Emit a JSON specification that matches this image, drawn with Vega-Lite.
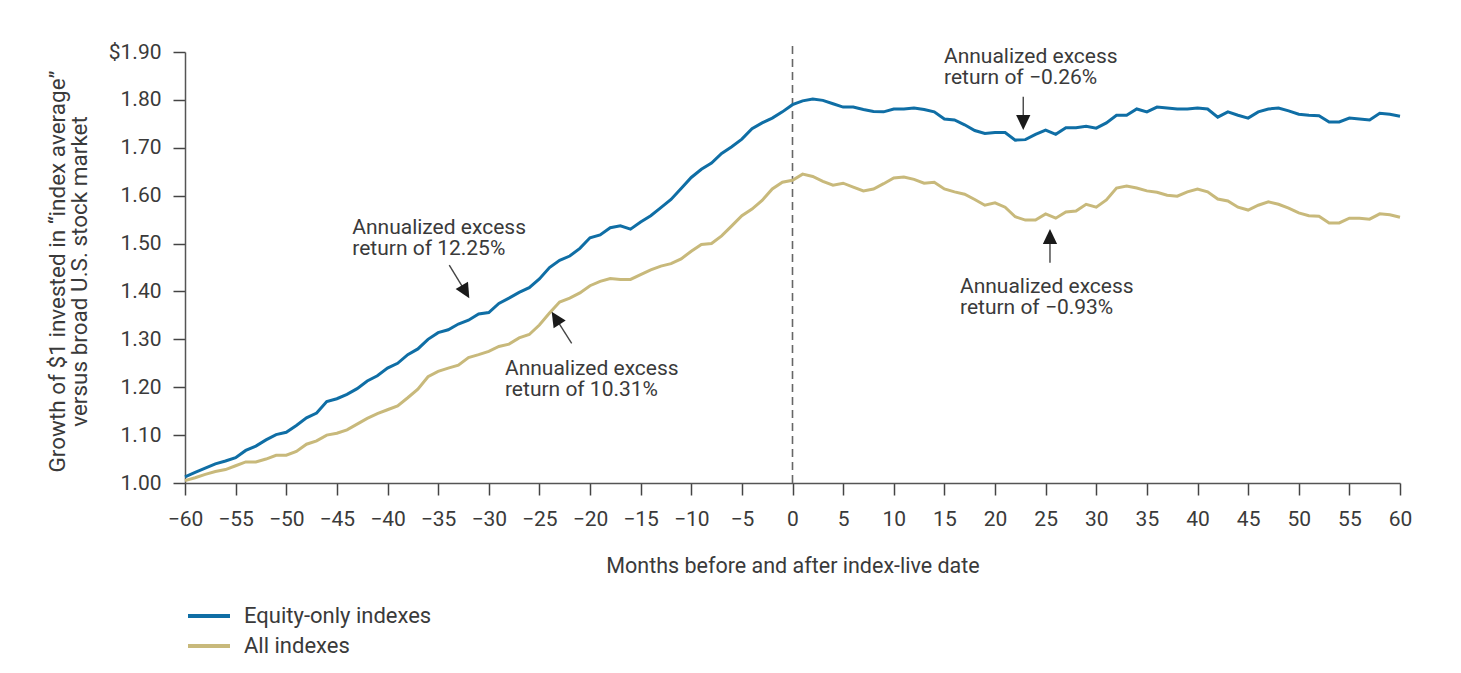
{
  "$schema": "https://vega.github.io/schema/vega-lite/v6.json",
  "width": 1215,
  "height": 431,
  "autosize": {"type": "none"},
  "padding": {"left": 185, "top": 52, "right": 61, "bottom": 190},
  "background": "white",
  "config": {
    "font": "Roboto",
    "view": {"stroke": null},
    "axis": {"grid": false, "labelFont": "Roboto", "titleFont": "Roboto", "labelColor": "#3a3a3a", "titleColor": "#3a3a3a", "titleFontWeight": "normal", "domainColor": "#555555", "tickColor": "#444444"}
  },
  "datasets": {
    "lines": [
      {"m":-60,"series":"Equity-only indexes","v":1.013},{"m":-59,"series":"Equity-only indexes","v":1.022},{"m":-58,"series":"Equity-only indexes","v":1.031},{"m":-57,"series":"Equity-only indexes","v":1.040},{"m":-56,"series":"Equity-only indexes","v":1.046},{"m":-55,"series":"Equity-only indexes","v":1.053},{"m":-54,"series":"Equity-only indexes","v":1.068},{"m":-53,"series":"Equity-only indexes","v":1.077},{"m":-52,"series":"Equity-only indexes","v":1.090},{"m":-51,"series":"Equity-only indexes","v":1.101},{"m":-50,"series":"Equity-only indexes","v":1.106},{"m":-49,"series":"Equity-only indexes","v":1.120},{"m":-48,"series":"Equity-only indexes","v":1.136},{"m":-47,"series":"Equity-only indexes","v":1.146},{"m":-46,"series":"Equity-only indexes","v":1.170},{"m":-45,"series":"Equity-only indexes","v":1.176},{"m":-44,"series":"Equity-only indexes","v":1.185},{"m":-43,"series":"Equity-only indexes","v":1.197},{"m":-42,"series":"Equity-only indexes","v":1.213},{"m":-41,"series":"Equity-only indexes","v":1.224},{"m":-40,"series":"Equity-only indexes","v":1.240},{"m":-39,"series":"Equity-only indexes","v":1.250},{"m":-38,"series":"Equity-only indexes","v":1.268},{"m":-37,"series":"Equity-only indexes","v":1.280},{"m":-36,"series":"Equity-only indexes","v":1.300},{"m":-35,"series":"Equity-only indexes","v":1.314},{"m":-34,"series":"Equity-only indexes","v":1.320},{"m":-33,"series":"Equity-only indexes","v":1.332},{"m":-32,"series":"Equity-only indexes","v":1.340},{"m":-31,"series":"Equity-only indexes","v":1.353},{"m":-30,"series":"Equity-only indexes","v":1.356},{"m":-29,"series":"Equity-only indexes","v":1.375},{"m":-28,"series":"Equity-only indexes","v":1.386},{"m":-27,"series":"Equity-only indexes","v":1.398},{"m":-26,"series":"Equity-only indexes","v":1.408},{"m":-25,"series":"Equity-only indexes","v":1.426},{"m":-24,"series":"Equity-only indexes","v":1.450},{"m":-23,"series":"Equity-only indexes","v":1.465},{"m":-22,"series":"Equity-only indexes","v":1.474},{"m":-21,"series":"Equity-only indexes","v":1.490},{"m":-20,"series":"Equity-only indexes","v":1.512},{"m":-19,"series":"Equity-only indexes","v":1.518},{"m":-18,"series":"Equity-only indexes","v":1.533},{"m":-17,"series":"Equity-only indexes","v":1.537},{"m":-16,"series":"Equity-only indexes","v":1.530},{"m":-15,"series":"Equity-only indexes","v":1.545},{"m":-14,"series":"Equity-only indexes","v":1.558},{"m":-13,"series":"Equity-only indexes","v":1.575},{"m":-12,"series":"Equity-only indexes","v":1.592},{"m":-11,"series":"Equity-only indexes","v":1.615},{"m":-10,"series":"Equity-only indexes","v":1.638},{"m":-9,"series":"Equity-only indexes","v":1.655},{"m":-8,"series":"Equity-only indexes","v":1.668},{"m":-7,"series":"Equity-only indexes","v":1.688},{"m":-6,"series":"Equity-only indexes","v":1.702},{"m":-5,"series":"Equity-only indexes","v":1.718},{"m":-4,"series":"Equity-only indexes","v":1.740},{"m":-3,"series":"Equity-only indexes","v":1.752},{"m":-2,"series":"Equity-only indexes","v":1.762},{"m":-1,"series":"Equity-only indexes","v":1.775},{"m":0,"series":"Equity-only indexes","v":1.790},{"m":1,"series":"Equity-only indexes","v":1.798},{"m":2,"series":"Equity-only indexes","v":1.802},{"m":3,"series":"Equity-only indexes","v":1.799},{"m":4,"series":"Equity-only indexes","v":1.792},{"m":5,"series":"Equity-only indexes","v":1.785},{"m":6,"series":"Equity-only indexes","v":1.785},{"m":7,"series":"Equity-only indexes","v":1.780},{"m":8,"series":"Equity-only indexes","v":1.776},{"m":9,"series":"Equity-only indexes","v":1.775},{"m":10,"series":"Equity-only indexes","v":1.781},{"m":11,"series":"Equity-only indexes","v":1.781},{"m":12,"series":"Equity-only indexes","v":1.783},{"m":13,"series":"Equity-only indexes","v":1.780},{"m":14,"series":"Equity-only indexes","v":1.775},{"m":15,"series":"Equity-only indexes","v":1.760},{"m":16,"series":"Equity-only indexes","v":1.758},{"m":17,"series":"Equity-only indexes","v":1.748},{"m":18,"series":"Equity-only indexes","v":1.736},{"m":19,"series":"Equity-only indexes","v":1.730},{"m":20,"series":"Equity-only indexes","v":1.732},{"m":21,"series":"Equity-only indexes","v":1.732},{"m":22,"series":"Equity-only indexes","v":1.716},{"m":23,"series":"Equity-only indexes","v":1.717},{"m":24,"series":"Equity-only indexes","v":1.728},{"m":25,"series":"Equity-only indexes","v":1.737},{"m":26,"series":"Equity-only indexes","v":1.728},{"m":27,"series":"Equity-only indexes","v":1.742},{"m":28,"series":"Equity-only indexes","v":1.742},{"m":29,"series":"Equity-only indexes","v":1.745},{"m":30,"series":"Equity-only indexes","v":1.741},{"m":31,"series":"Equity-only indexes","v":1.752},{"m":32,"series":"Equity-only indexes","v":1.768},{"m":33,"series":"Equity-only indexes","v":1.768},{"m":34,"series":"Equity-only indexes","v":1.781},{"m":35,"series":"Equity-only indexes","v":1.775},{"m":36,"series":"Equity-only indexes","v":1.785},{"m":37,"series":"Equity-only indexes","v":1.783},{"m":38,"series":"Equity-only indexes","v":1.781},{"m":39,"series":"Equity-only indexes","v":1.781},{"m":40,"series":"Equity-only indexes","v":1.783},{"m":41,"series":"Equity-only indexes","v":1.781},{"m":42,"series":"Equity-only indexes","v":1.764},{"m":43,"series":"Equity-only indexes","v":1.775},{"m":44,"series":"Equity-only indexes","v":1.768},{"m":45,"series":"Equity-only indexes","v":1.762},{"m":46,"series":"Equity-only indexes","v":1.775},{"m":47,"series":"Equity-only indexes","v":1.781},{"m":48,"series":"Equity-only indexes","v":1.783},{"m":49,"series":"Equity-only indexes","v":1.777},{"m":50,"series":"Equity-only indexes","v":1.770},{"m":51,"series":"Equity-only indexes","v":1.768},{"m":52,"series":"Equity-only indexes","v":1.767},{"m":53,"series":"Equity-only indexes","v":1.754},{"m":54,"series":"Equity-only indexes","v":1.754},{"m":55,"series":"Equity-only indexes","v":1.762},{"m":56,"series":"Equity-only indexes","v":1.760},{"m":57,"series":"Equity-only indexes","v":1.758},{"m":58,"series":"Equity-only indexes","v":1.772},{"m":59,"series":"Equity-only indexes","v":1.770},{"m":60,"series":"Equity-only indexes","v":1.766},
      {"m":-60,"series":"All indexes","v":1.005},{"m":-59,"series":"All indexes","v":1.011},{"m":-58,"series":"All indexes","v":1.018},{"m":-57,"series":"All indexes","v":1.024},{"m":-56,"series":"All indexes","v":1.028},{"m":-55,"series":"All indexes","v":1.036},{"m":-54,"series":"All indexes","v":1.044},{"m":-53,"series":"All indexes","v":1.044},{"m":-52,"series":"All indexes","v":1.050},{"m":-51,"series":"All indexes","v":1.058},{"m":-50,"series":"All indexes","v":1.058},{"m":-49,"series":"All indexes","v":1.066},{"m":-48,"series":"All indexes","v":1.081},{"m":-47,"series":"All indexes","v":1.088},{"m":-46,"series":"All indexes","v":1.100},{"m":-45,"series":"All indexes","v":1.104},{"m":-44,"series":"All indexes","v":1.111},{"m":-43,"series":"All indexes","v":1.123},{"m":-42,"series":"All indexes","v":1.135},{"m":-41,"series":"All indexes","v":1.145},{"m":-40,"series":"All indexes","v":1.153},{"m":-39,"series":"All indexes","v":1.161},{"m":-38,"series":"All indexes","v":1.178},{"m":-37,"series":"All indexes","v":1.196},{"m":-36,"series":"All indexes","v":1.222},{"m":-35,"series":"All indexes","v":1.233},{"m":-34,"series":"All indexes","v":1.240},{"m":-33,"series":"All indexes","v":1.246},{"m":-32,"series":"All indexes","v":1.262},{"m":-31,"series":"All indexes","v":1.268},{"m":-30,"series":"All indexes","v":1.275},{"m":-29,"series":"All indexes","v":1.285},{"m":-28,"series":"All indexes","v":1.290},{"m":-27,"series":"All indexes","v":1.303},{"m":-26,"series":"All indexes","v":1.310},{"m":-25,"series":"All indexes","v":1.330},{"m":-24,"series":"All indexes","v":1.355},{"m":-23,"series":"All indexes","v":1.378},{"m":-22,"series":"All indexes","v":1.386},{"m":-21,"series":"All indexes","v":1.397},{"m":-20,"series":"All indexes","v":1.412},{"m":-19,"series":"All indexes","v":1.421},{"m":-18,"series":"All indexes","v":1.427},{"m":-17,"series":"All indexes","v":1.425},{"m":-16,"series":"All indexes","v":1.425},{"m":-15,"series":"All indexes","v":1.435},{"m":-14,"series":"All indexes","v":1.445},{"m":-13,"series":"All indexes","v":1.453},{"m":-12,"series":"All indexes","v":1.458},{"m":-11,"series":"All indexes","v":1.468},{"m":-10,"series":"All indexes","v":1.484},{"m":-9,"series":"All indexes","v":1.498},{"m":-8,"series":"All indexes","v":1.500},{"m":-7,"series":"All indexes","v":1.516},{"m":-6,"series":"All indexes","v":1.537},{"m":-5,"series":"All indexes","v":1.558},{"m":-4,"series":"All indexes","v":1.572},{"m":-3,"series":"All indexes","v":1.590},{"m":-2,"series":"All indexes","v":1.614},{"m":-1,"series":"All indexes","v":1.628},{"m":0,"series":"All indexes","v":1.632},{"m":1,"series":"All indexes","v":1.645},{"m":2,"series":"All indexes","v":1.640},{"m":3,"series":"All indexes","v":1.630},{"m":4,"series":"All indexes","v":1.622},{"m":5,"series":"All indexes","v":1.626},{"m":6,"series":"All indexes","v":1.618},{"m":7,"series":"All indexes","v":1.610},{"m":8,"series":"All indexes","v":1.614},{"m":9,"series":"All indexes","v":1.625},{"m":10,"series":"All indexes","v":1.637},{"m":11,"series":"All indexes","v":1.639},{"m":12,"series":"All indexes","v":1.634},{"m":13,"series":"All indexes","v":1.626},{"m":14,"series":"All indexes","v":1.628},{"m":15,"series":"All indexes","v":1.614},{"m":16,"series":"All indexes","v":1.608},{"m":17,"series":"All indexes","v":1.603},{"m":18,"series":"All indexes","v":1.592},{"m":19,"series":"All indexes","v":1.580},{"m":20,"series":"All indexes","v":1.585},{"m":21,"series":"All indexes","v":1.576},{"m":22,"series":"All indexes","v":1.556},{"m":23,"series":"All indexes","v":1.549},{"m":24,"series":"All indexes","v":1.549},{"m":25,"series":"All indexes","v":1.562},{"m":26,"series":"All indexes","v":1.553},{"m":27,"series":"All indexes","v":1.566},{"m":28,"series":"All indexes","v":1.568},{"m":29,"series":"All indexes","v":1.582},{"m":30,"series":"All indexes","v":1.576},{"m":31,"series":"All indexes","v":1.591},{"m":32,"series":"All indexes","v":1.616},{"m":33,"series":"All indexes","v":1.620},{"m":34,"series":"All indexes","v":1.616},{"m":35,"series":"All indexes","v":1.610},{"m":36,"series":"All indexes","v":1.607},{"m":37,"series":"All indexes","v":1.601},{"m":38,"series":"All indexes","v":1.599},{"m":39,"series":"All indexes","v":1.608},{"m":40,"series":"All indexes","v":1.614},{"m":41,"series":"All indexes","v":1.608},{"m":42,"series":"All indexes","v":1.593},{"m":43,"series":"All indexes","v":1.589},{"m":44,"series":"All indexes","v":1.576},{"m":45,"series":"All indexes","v":1.570},{"m":46,"series":"All indexes","v":1.580},{"m":47,"series":"All indexes","v":1.587},{"m":48,"series":"All indexes","v":1.582},{"m":49,"series":"All indexes","v":1.574},{"m":50,"series":"All indexes","v":1.564},{"m":51,"series":"All indexes","v":1.558},{"m":52,"series":"All indexes","v":1.557},{"m":53,"series":"All indexes","v":1.543},{"m":54,"series":"All indexes","v":1.543},{"m":55,"series":"All indexes","v":1.553},{"m":56,"series":"All indexes","v":1.553},{"m":57,"series":"All indexes","v":1.551},{"m":58,"series":"All indexes","v":1.562},{"m":59,"series":"All indexes","v":1.560},{"m":60,"series":"All indexes","v":1.555}
    ],
    "notes": [
      {"m": -43.48, "v": 1.5198, "label": "Annualized excess\nreturn of 12.25%"},
      {"m": -28.4, "v": 1.2255, "label": "Annualized excess\nreturn of 10.31%"},
      {"m": 14.96, "v": 1.876, "label": "Annualized excess\nreturn of −0.26%"},
      {"m": 16.54, "v": 1.396, "label": "Annualized excess\nreturn of −0.93%"}
    ],
    "arrows": [
      {"id": "a1", "m": -33.9, "v": 1.4551, "m2": -32.29, "v2": 1.3992},
      {"id": "a2", "m": -21.81, "v": 1.2917, "m2": -23.39, "v2": 1.3445},
      {"id": "a3", "m": 22.79, "v": 1.8065, "m2": 22.79, "v2": 1.7526},
      {"id": "a4", "m": 25.43, "v": 1.46, "m2": 25.43, "v2": 1.5146}
    ],
    "live": [{"m": 0, "v": 1.0, "v2": 1.92}]
  },
  "layer": [
    {
      "data": {"name": "live"},
      "mark": {"type": "rule", "color": "#666666", "strokeWidth": 1.6, "strokeDash": [8, 5]},
      "encoding": {
        "x": {"field": "m", "type": "quantitative", "scale": {"domain": [-60, 60], "nice": false, "zero": false}},
        "y": {"field": "v", "type": "quantitative", "scale": {"domain": [1, 1.9], "nice": false, "zero": false}},
        "y2": {"field": "v2"}
      }
    },
    {
      "data": {"name": "lines"},
      "mark": {"type": "line", "strokeWidth": 3, "interpolate": "linear"},
      "encoding": {
        "x": {"field": "m", "type": "quantitative",
          "axis": {"values": [-60,-55,-50,-45,-40,-35,-30,-25,-20,-15,-10,-5,0,5,10,15,20,25,30,35,40,45,50,55,60],
            "title": "Months before and after index-live date", "titleFontSize": 21.5, "titlePadding": 26,
            "labelFontSize": 21, "labelPadding": 13, "tickSize": 12, "tickWidth": 1.5, "domainWidth": 1.5, "labelFlush": false}},
        "y": {"field": "v", "type": "quantitative",
          "axis": {"values": [1.0,1.1,1.2,1.3,1.4,1.5,1.6,1.7,1.8,1.9],
            "labelExpr": "datum.value >= 1.89 ? '$1.90' : format(datum.value, '.2f')",
            "title": ["Growth of $1 invested in “index average”", "versus broad U.S. stock market"],
            "titleFontSize": 22.5, "titleLineHeight": 22, "titleX": -128, "titleY": 219, "titleAngle": -90,
            "titleAlign": "center", "titleBaseline": "middle",
            "labelFontSize": 21, "labelPadding": 12, "tickSize": 12, "tickWidth": 1.5, "domainWidth": 1.5}},
        "color": {"field": "series", "type": "nominal",
          "scale": {"domain": ["Equity-only indexes", "All indexes"], "range": ["#0f6ea5", "#c8b97b"]},
          "legend": {"title": null, "orient": "none", "legendX": 1, "legendY": 549, "direction": "vertical",
            "symbolType": "stroke", "symbolSize": 1764, "symbolStrokeWidth": 4, "labelFontSize": 22,
            "labelColor": "#3a3a3a", "labelOffset": 12, "rowPadding": 0, "clipHeight": 30, "padding": 0, "labelFont": "Roboto", "labelLimit": 400}}
      }
    },
    {
      "data": {"name": "arrows"},
      "mark": {"type": "rule", "color": "#444444", "strokeWidth": 1.4},
      "encoding": {
        "x": {"field": "m", "type": "quantitative"},
        "y": {"field": "v", "type": "quantitative"},
        "x2": {"field": "m2"},
        "y2": {"field": "v2"}
      }
    },
    {
      "data": {"name": "arrows"},
      "transform": [{"filter": "datum.id === 'a1'"}],
      "mark": {"type": "point", "shape": "M0,-1L0.95,1L-0.95,1Z", "size": 225, "filled": true, "color": "#1a1a1a", "opacity": 1, "angle": 150},
      "encoding": {"x": {"field": "m2", "type": "quantitative"}, "y": {"field": "v2", "type": "quantitative"}}
    },
    {
      "data": {"name": "arrows"},
      "transform": [{"filter": "datum.id === 'a2'"}],
      "mark": {"type": "point", "shape": "M0,-1L0.95,1L-0.95,1Z", "size": 225, "filled": true, "color": "#1a1a1a", "opacity": 1, "angle": 328},
      "encoding": {"x": {"field": "m2", "type": "quantitative"}, "y": {"field": "v2", "type": "quantitative"}}
    },
    {
      "data": {"name": "arrows"},
      "transform": [{"filter": "datum.id === 'a3'"}],
      "mark": {"type": "point", "shape": "M0,-1L0.95,1L-0.95,1Z", "size": 225, "filled": true, "color": "#1a1a1a", "opacity": 1, "angle": 180},
      "encoding": {"x": {"field": "m2", "type": "quantitative"}, "y": {"field": "v2", "type": "quantitative"}}
    },
    {
      "data": {"name": "arrows"},
      "transform": [{"filter": "datum.id === 'a4'"}],
      "mark": {"type": "point", "shape": "M0,-1L0.95,1L-0.95,1Z", "size": 225, "filled": true, "color": "#1a1a1a", "opacity": 1, "angle": 0},
      "encoding": {"x": {"field": "m2", "type": "quantitative"}, "y": {"field": "v2", "type": "quantitative"}}
    },
    {
      "data": {"name": "notes"},
      "mark": {"type": "text", "align": "left", "baseline": "alphabetic", "lineBreak": "\n", "lineHeight": 21, "fontSize": 21, "font": "Roboto", "color": "#3a3a3a"},
      "encoding": {
        "x": {"field": "m", "type": "quantitative"},
        "y": {"field": "v", "type": "quantitative"},
        "text": {"field": "label"}
      }
    }
  ]
}
